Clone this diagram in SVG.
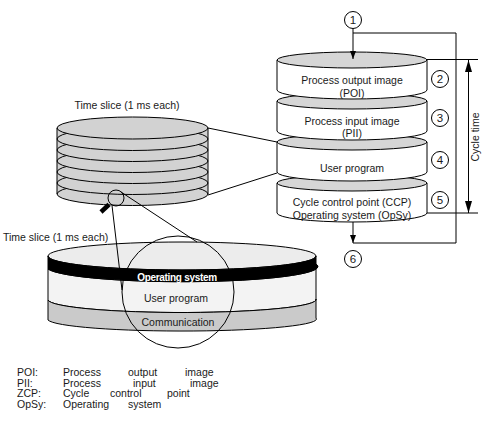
<svg xmlns="http://www.w3.org/2000/svg" width="488" height="424" viewBox="0 0 488 424">
<style>
text{font-family:"Liberation Sans",Arial,sans-serif;font-size:10.5px;fill:#1a1a1a}
.c{text-anchor:middle}
.ln{stroke:#000;stroke-width:1;fill:none}
.body{fill:#fff;stroke:#000;stroke-width:1}
.top{fill:#d6d6d6;stroke:#000;stroke-width:1}
.sl{fill:#d2d2d2;stroke:#000;stroke-width:1}
.num{fill:#fff;stroke:#000;stroke-width:1}
.nt{font-size:11.5px;text-anchor:middle}
</style>
<defs>
<marker id="ah" viewBox="0 0 8 8" refX="8" refY="4" markerWidth="8" markerHeight="8" markerUnits="userSpaceOnUse" orient="auto">
<path d="M0,1 L8,4 L0,7 Z" fill="#000"/>
</marker>
<marker id="ahb" viewBox="0 0 12 8" refX="12" refY="4" markerWidth="12" markerHeight="8" markerUnits="userSpaceOnUse" orient="auto">
<path d="M0,0.5 L12,4 L0,7.5 Z" fill="#000"/>
</marker>
</defs>

<!-- left time slice stack -->
<g id="slice-stack">
<text class="c" x="127" y="109">Time slice (1 ms each)</text>
<path d="M57 127 L57 193 L208 193 L208 127 Z" fill="#d2d2d2" stroke="none"/>
<ellipse class="sl" cx="132.5" cy="194" rx="75.5" ry="11.5"/>
<ellipse class="sl" cx="132.5" cy="183" rx="75.5" ry="11.5"/>
<ellipse class="sl" cx="132.5" cy="172" rx="75.5" ry="11.5"/>
<ellipse class="sl" cx="132.5" cy="161" rx="75.5" ry="11.5"/>
<ellipse class="sl" cx="132.5" cy="150" rx="75.5" ry="11.5"/>
<ellipse class="sl" cx="132.5" cy="139" rx="75.5" ry="11.5"/>
<ellipse class="sl" cx="132.5" cy="128" rx="75.5" ry="11"/>
<path class="ln" d="M57 128 L57 194 M208 128 L208 194"/>
</g>

<!-- right cycle stack, drawn bottom-up -->
<g id="disk-opsy">
<path class="body" d="M277 183 L277 213 A75 9 0 0 0 427 213 L427 183 Z"/>
<ellipse class="top" cx="352" cy="183" rx="75" ry="8"/>
<text class="c" x="352" y="206">Cycle control point (CCP)</text>
<text class="c" x="352" y="219">Operating system (OpSy)</text>
</g>
<g id="disk-user">
<path class="body" d="M277 142 L277 172 A75 9 0 0 0 427 172 L427 142 Z"/>
<ellipse class="top" cx="352" cy="142" rx="75" ry="8"/>
<text class="c" x="352" y="172">User program</text>
</g>
<g id="disk-pii">
<path class="body" d="M277 101 L277 131 A75 9 0 0 0 427 131 L427 101 Z"/>
<ellipse class="top" cx="352" cy="101" rx="75" ry="8"/>
<text class="c" x="352" y="125">Process input image</text>
<text class="c" x="352" y="137">(PII)</text>
</g>
<g id="disk-poi">
<path class="body" d="M277 60 L277 90 A75 9 0 0 0 427 90 L427 60 Z"/>
<ellipse class="top" cx="352" cy="60" rx="75" ry="8"/>
<text class="c" x="352" y="84">Process output image</text>
<text class="c" x="352" y="97">(POI)</text>
</g>

<!-- bottom time slice cylinder -->
<g id="slice-detail">
<text x="3" y="241">Time slice (1 ms each)</text>
<path d="M48 269 A134 15 0 0 0 316 264 L316 299 A134 13 0 0 1 48 300 Z" fill="#f3f3f3" stroke="#000"/>
<path d="M48 300 A134 13 0 0 0 316 299 L316 318 A134 12 0 0 1 48 320 Z" fill="#cacaca" stroke="#000"/>
<ellipse cx="182" cy="256" rx="134" ry="14" fill="#ececec" stroke="#000"/>
<path d="M48 256 A134 14 0 0 0 316 256 L316 264 A134 15 0 0 1 48 269 Z" fill="#000" stroke="#000"/>
<text class="c" x="177" y="281" style="fill:#fff;font-weight:bold;font-size:10px;letter-spacing:-0.3px">Operating system</text>
<text class="c" x="176" y="302">User program</text>
<text class="c" x="178" y="326">Communication</text>
</g>

<!-- magnifier -->
<g id="magnifier">
<circle cx="116" cy="198" r="8" class="ln"/>
<line x1="109" y1="204.5" x2="101" y2="212" stroke="#000" stroke-width="4.5"/>
<circle cx="178" cy="292" r="56" class="ln"/>
</g>

<!-- numbers -->
<g id="n1"><circle class="num" cx="353" cy="20" r="8.5"/><text class="nt" x="353" y="24">1</text></g>
<g id="n2"><circle class="num" cx="440" cy="79" r="8.5"/><text class="nt" x="440" y="83">2</text></g>
<g id="n3"><circle class="num" cx="440" cy="118" r="8.5"/><text class="nt" x="440" y="122">3</text></g>
<g id="n4"><circle class="num" cx="440" cy="160" r="8.5"/><text class="nt" x="440" y="164">4</text></g>
<g id="n5"><circle class="num" cx="440" cy="200" r="8.5"/><text class="nt" x="440" y="204">5</text></g>
<g id="n6"><circle class="num" cx="353" cy="259" r="8.5"/><text class="nt" x="353" y="263">6</text></g>

<!-- connectors -->
<g id="connectors">
<line class="ln" x1="353" y1="28.5" x2="353" y2="59" marker-end="url(#ah)"/>
<polyline class="ln" points="353,33 456,33 456,243 353,243"/>
<line class="ln" x1="353" y1="222" x2="353" y2="243" marker-end="url(#ah)"/>
<line class="ln" x1="427" y1="59.5" x2="478" y2="59.5"/>
<line class="ln" x1="427" y1="213" x2="478" y2="213"/>
<line class="ln" x1="468.5" y1="136" x2="468.5" y2="60" marker-end="url(#ahb)"/>
<line class="ln" x1="468.5" y1="136" x2="468.5" y2="213" marker-end="url(#ahb)"/>
<line class="ln" x1="208" y1="128" x2="277" y2="142"/>
<line class="ln" x1="208" y1="195" x2="277" y2="173"/>
<line class="ln" x1="112" y1="205.5" x2="122" y2="290"/>
<line class="ln" x1="121" y1="192" x2="197" y2="242"/>
</g>
<text x="479" y="137" class="c" transform="rotate(-90 479 137)">Cycle time</text>

<!-- legend -->
<g id="legend">
<text x="17" y="375.5">POI:</text><text x="63" y="375.5">Process</text><text x="128" y="375.5">output</text><text x="185" y="375.5">image</text>
<text x="17" y="386.5">PII:</text><text x="63" y="386.5">Process</text><text x="133" y="386.5">input</text><text x="190" y="386.5">image</text>
<text x="17" y="397">ZCP:</text><text x="63" y="397">Cycle</text><text x="110" y="397">control</text><text x="167" y="397">point</text>
<text x="17" y="407.5">OpSy:</text><text x="63" y="407.5">Operating</text><text x="128" y="407.5">system</text>
</g>
</svg>
